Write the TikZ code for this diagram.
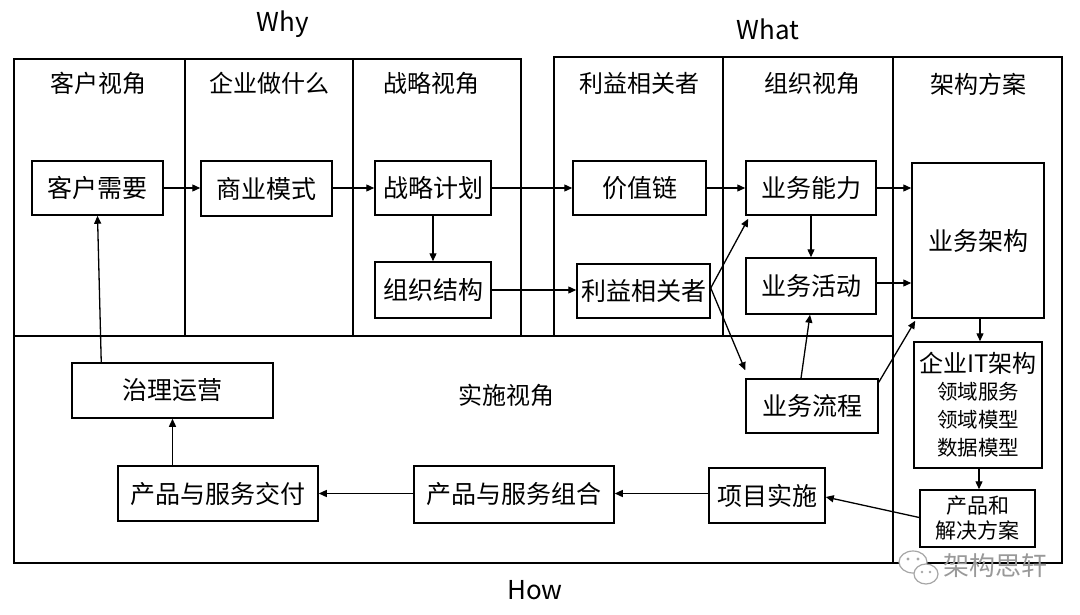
\documentclass[tikz,border=0pt]{standalone}
\usepackage{fontspec}
\setmainfont{Noto Sans CJK SC}
\usetikzlibrary{arrows.meta,calc}
\begin{document}
\begin{tikzpicture}[x=1pt,y=-1pt,
  frame/.style={draw, line width=1.6pt},
  box/.style={draw, line width=1.5pt, inner sep=0pt, align=center, font=\fontsize{25}{29}\selectfont},
  arr/.style={-{Triangle[length=8pt,width=7pt]}, line width=1.3pt},
  hdr/.style={inner sep=0pt, font=\fontsize{24}{28}\selectfont},
  ttl/.style={inner sep=0pt, font=\fontsize{26}{30}\selectfont},
  wm/.style={inner sep=0pt, text=black!40, font=\fontsize{26}{30}\selectfont}]
\useasboundingbox (0,0) rectangle (1080,614);
\fill[white] (0,0) rectangle (1080,614);
% frames
\draw[frame] (14,59) rectangle (521,336);
\draw[frame] (185,59) -- (185,336);
\draw[frame] (353,59) -- (353,336);
\draw[frame] (554,57) rectangle (893,336);
\draw[frame] (723,57) -- (723,336);
\draw[frame] (893,57) rectangle (1062,563);
\draw[frame] (14,336) rectangle (893,563);
% titles
\node[ttl] (why) at (283,24) {Why};
\node[ttl] (what) at (768,29) {What};
\node[ttl] (how) at (535,590) {How};
% column headers
\node[hdr] (h1) at (98,83) {客户视角};
\node[hdr] (h2) at (269,83) {企业做什么};
\node[hdr] (h3) at (431,83) {战略视角};
\node[hdr] (h4) at (639,83) {利益相关者};
\node[hdr] (h5) at (812,83) {组织视角};
\node[hdr] (h6) at (978,84) {架构方案};
\node[hdr] (h7) at (506,395) {实施视角};
% boxes
\node[box, minimum width=131pt, minimum height=54pt] (khxy) at (97.5,188) {客户需要};
\node[box, minimum width=131pt, minimum height=55pt] (syms) at (266.5,188.5) {商业模式};
\node[box, minimum width=116pt, minimum height=54pt] (zljh) at (433,188) {战略计划};
\node[box, minimum width=116pt, minimum height=56pt] (zzjg) at (433,290) {组织结构};
\node[box, minimum width=133pt, minimum height=54pt] (jzl) at (639.5,188) {价值链};
\node[box, minimum width=133pt, minimum height=54pt] (lyxgz) at (643.5,291) {利益相关者};
\node[box, minimum width=130pt, minimum height=54pt] (ywnl) at (811,188) {业务能力};
\node[box, minimum width=130pt, minimum height=56pt] (ywhd) at (811,286) {业务活动};
\node[box, minimum width=132pt, minimum height=155pt] (ywjg) at (978,240.5) {业务架构};
\node[box, minimum width=132pt, minimum height=54pt] (ywlc) at (812,406) {业务流程};
\node[box, minimum width=128pt, minimum height=126pt, font=\fontsize{24}{28}\selectfont] (qyit) at (978,405) {企业IT架构\\[-1pt]{\fontsize{20.5}{25}\selectfont 领域服务}\\{\fontsize{20.5}{25}\selectfont 领域模型}\\{\fontsize{20.5}{25}\selectfont 数据模型}};
\node[box, minimum width=115pt, minimum height=57pt, font=\fontsize{21}{25}\selectfont] (cphjj) at (977.5,518.5) {产品和\\解决方案};
\node[box, minimum width=116pt, minimum height=55pt] (xmss) at (767,495.5) {项目实施};
\node[box, minimum width=200pt, minimum height=57pt] (cpzh) at (514,494.5) {产品与服务组合};
\node[box, minimum width=200pt, minimum height=55pt] (cpjf) at (218,493.5) {产品与服务交付};
\node[box, minimum width=201pt, minimum height=55pt] (zlyy) at (172.5,390.5) {治理运营};
% connectors
\draw[arr] (khxy.east) -- (syms.west |- khxy.east);
\draw[arr] (syms.east |- zljh.west) -- (zljh.west);
\draw[arr] (zljh.east) -- (jzl.west);
\draw[arr] (zljh.south) -- (zzjg.north);
\draw[arr] (zzjg.east) -- (lyxgz.west |- zzjg.east);
\draw[arr] (jzl.east) -- (ywnl.west);
\draw[arr] ($(lyxgz.east)+(0,-3)$) -- ($(ywnl.south west)+(3,3)$);
\draw[arr] ($(lyxgz.east)+(0,-3)$) -- ($(ywlc.north west)+(0,-8)$);
\draw[arr] (ywnl.south) -- (ywhd.north);
\draw[arr] (ywnl.east) -- (ywnl.east -| ywjg.west);
\draw[arr] ($(ywhd.east)+(0,-3)$) -- ($(ywhd.east -| ywjg.west)+(0,-3)$);
\draw[arr] ($(ywlc.north)+(-11,0)$) -- ($(ywhd.south)+(-1,0)$);
\draw[arr] ($(ywlc.north east)+(0,4)$) -- ($(ywjg.south west)+(4,2)$);
\draw[arr] ($(ywjg.south)+(2,0)$) -- ($(qyit.north)+(2,0)$);
\draw[arr] ($(qyit.south)+(1,0)$) -- ($(cphjj.north)+(1.5,0)$);
\draw[arr] ($(cphjj.west)+(0,-1)$) -- ($(xmss.east)+(0,1.5)$);
\draw[arr] ($(xmss.west)+(0,-2)$) -- ($(cpzh.east)+(0,-1)$);
\draw[arr] ($(cpzh.west)+(0,-1)$) -- (cpjf.east);
\draw[arr] (cpjf.north -| zlyy.south) -- (zlyy.south);
\draw[arr] ($(zlyy.north west)+(30,0)$) -- (khxy.south);
% watermark
\begin{scope}[draw=black!35, line width=1.2pt]
\filldraw[fill=white] (913,562) ellipse [x radius=14pt, y radius=11pt];
\filldraw[fill=white] (926,574) ellipse [x radius=12pt, y radius=10pt];
\fill[black!35] (908,559) circle (1.6pt) (918,559) circle (1.6pt);
\fill[black!35] (922,572) circle (1.4pt) (930,572) circle (1.4pt);
\end{scope}
\node[wm] (wmt) at (995,566) {架构思轩};
\end{tikzpicture}
\end{document}
